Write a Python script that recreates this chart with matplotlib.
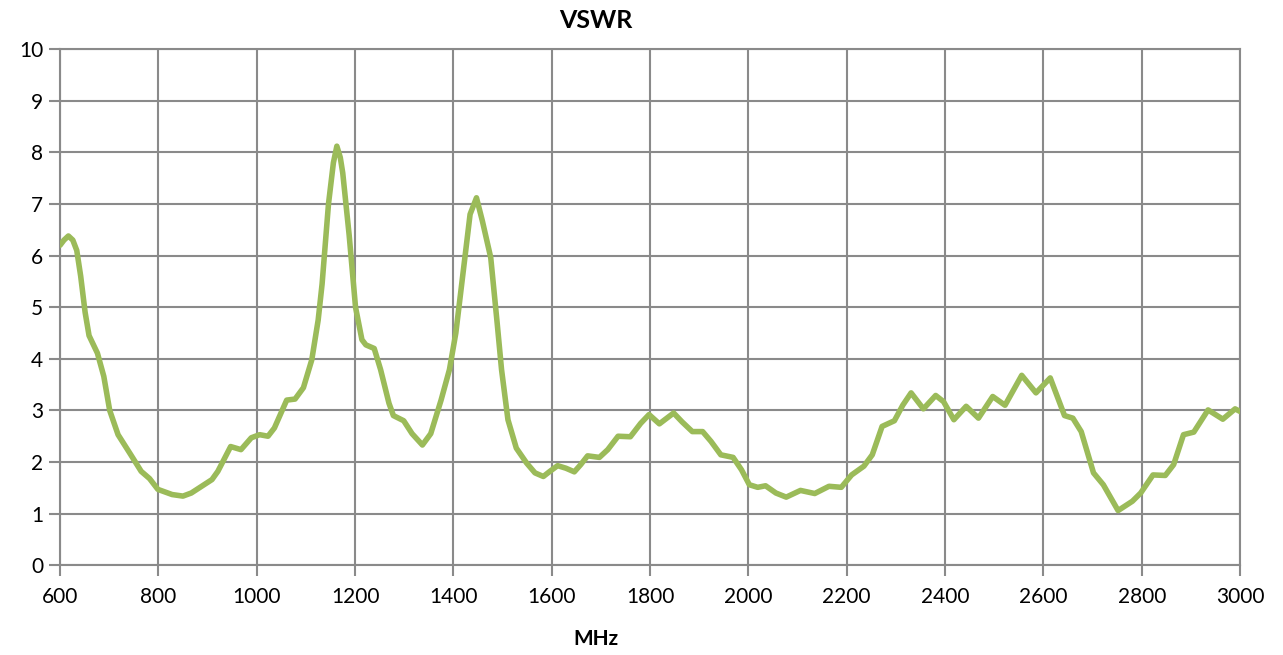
import matplotlib.pyplot as plt

# VSWR vs frequency
freq_mhz = [600, 608, 617, 626, 634, 642, 651, 659, 676, 689, 701, 718, 744, 765, 782, 799,
            828, 850, 867, 888, 909, 921, 947, 968, 989, 1006, 1023, 1036, 1061, 1078, 1095,
            1112, 1125, 1133, 1146, 1156, 1163, 1170, 1175, 1188, 1201, 1214, 1222, 1239,
            1252, 1269, 1278, 1299, 1316, 1337, 1354, 1375, 1392, 1405, 1421, 1434, 1447,
            1459, 1476, 1489, 1498, 1511, 1528, 1549, 1566, 1583, 1595, 1612, 1629, 1646,
            1659, 1673, 1697, 1714, 1735, 1760, 1781, 1798, 1819, 1848, 1865, 1886, 1907,
            1924, 1944, 1969, 1986, 2002, 2019, 2035, 2056, 2077, 2106, 2135, 2164, 2189,
            2210, 2235, 2252, 2272, 2297, 2314, 2331, 2356, 2381, 2397, 2418, 2443, 2468,
            2497, 2522, 2556, 2585, 2614, 2643, 2660, 2677, 2702, 2722, 2752, 2781, 2798,
            2823, 2848, 2865, 2885, 2906, 2935, 2965, 2990, 3000]
vswr = [6.2, 6.3, 6.38, 6.3, 6.1, 5.6, 4.9, 4.45, 4.11, 3.66, 3.0, 2.53, 2.14, 1.82, 1.68, 1.47,
        1.37, 1.34, 1.4, 1.53, 1.66, 1.82, 2.3, 2.24, 2.47, 2.53, 2.5, 2.66, 3.2, 3.22, 3.44,
        3.98, 4.75, 5.45, 7.0, 7.8, 8.12, 7.9, 7.6, 6.4, 5.0, 4.37, 4.27, 4.2,
        3.79, 3.14, 2.9, 2.8, 2.55, 2.33, 2.55, 3.2, 3.79, 4.5, 5.77, 6.8, 7.12,
        6.67, 5.96, 4.7, 3.79, 2.82, 2.27, 1.98, 1.79, 1.72, 1.81, 1.93, 1.88, 1.81,
        1.95, 2.12, 2.09, 2.24, 2.5, 2.49, 2.75, 2.92, 2.74, 2.95, 2.78, 2.59, 2.59,
        2.4, 2.14, 2.09, 1.85, 1.56, 1.51, 1.54, 1.4, 1.32, 1.45, 1.39, 1.53, 1.51,
        1.75, 1.92, 2.14, 2.69, 2.8, 3.1, 3.34, 3.03, 3.29, 3.17, 2.82, 3.08, 2.85,
        3.27, 3.1, 3.68, 3.34, 3.63, 2.9, 2.85, 2.59, 1.79, 1.56, 1.06, 1.24, 1.4,
        1.75, 1.74, 1.95, 2.53, 2.58, 3.01, 2.83, 3.03, 2.98]

x_ticks = list(range(600, 3001, 200))
y_ticks = list(range(0, 11))

plt.rcParams['font.family'] = ['Lato', 'DejaVu Sans']

fig = plt.figure(figsize=(12.83, 6.55), dpi=100)
ax = fig.add_axes([0.0468, 0.137, 0.9197, 0.788])

grid_col = '#8a8a8a'
ax.plot(freq_mhz, vswr, color='#9bbb59', linewidth=4.0,
        solid_joinstyle='round', solid_capstyle='round', zorder=3)

ax.set_xlim(600, 3000)
ax.set_ylim(0, 10)
ax.set_xticks(x_ticks)
ax.set_yticks(y_ticks)
ax.grid(True, color=grid_col, linewidth=1.5)
for s in ax.spines.values():
    s.set_color(grid_col)
    s.set_linewidth(1.5)
ax.tick_params(axis='both', color=grid_col, width=1.5, length=8,
               labelsize=15, labelcolor='black')
ax.tick_params(axis='x', pad=8)
ax.tick_params(axis='y', pad=4)

fig.text(596 / 1283, 1 - 20 / 655, 'VSWR', ha='center', va='center',
         fontsize=18, fontweight='bold')
fig.text(596 / 1283, 1 - 639 / 655, 'MHz', ha='center', va='center',
         fontsize=15, fontweight='bold')

fig.savefig('out.png', dpi=100)
